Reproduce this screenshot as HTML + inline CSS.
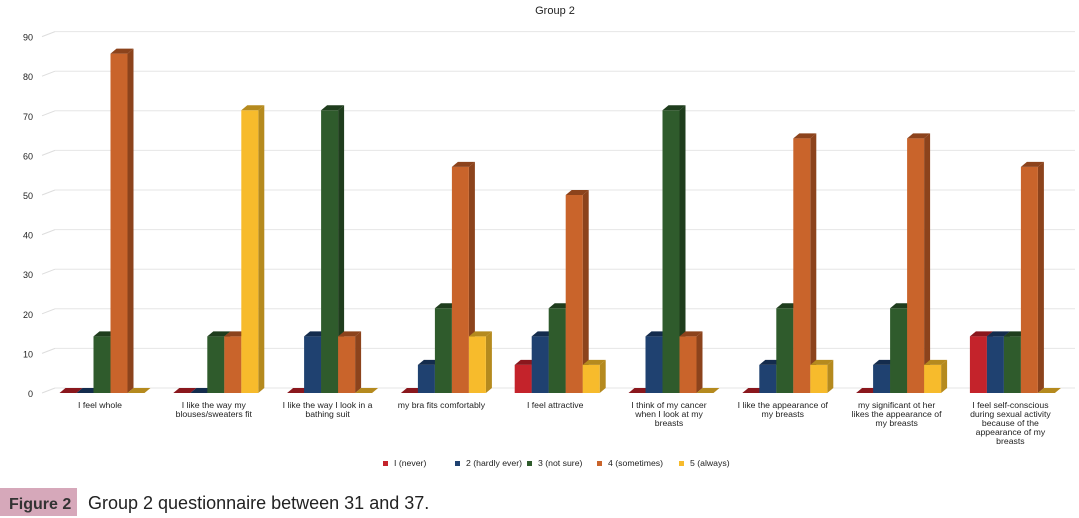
<!DOCTYPE html>
<html><head><meta charset="utf-8"><style>
body{margin:0;background:#fff;width:1079px;height:518px;overflow:hidden;font-family:"Liberation Sans",sans-serif}
svg{position:absolute;left:0;top:0}
</style></head><body>
<svg id="s" width="1079" height="518" xmlns="http://www.w3.org/2000/svg" font-family="Liberation Sans, sans-serif">
<text x="555" y="14" font-size="11" text-anchor="middle" fill="#222">Group 2</text>
<rect x="0" y="488" width="77" height="28" fill="#d6a8ba"/>
<text x="9" y="509" font-size="16" font-weight="bold" fill="#333">Figure 2</text>
<text x="88" y="509" font-size="18" fill="#222">Group 2 questionnaire between 31 and 37.</text>
</svg>
<script>
var s=document.getElementById('s'),h='';
function Y(v){return 393-v*3.96;}
for(var i=0;i<=9;i++){var y=Y(i*10);
h+='<line x1="42" y1="'+y+'" x2="55" y2="'+(y-5)+'" stroke="#ddd"/><line x1="55" y1="'+(y-5)+'" x2="1075" y2="'+(y-5)+'" stroke="#e6e6e6"/>';
h+='<text x="33" y="'+(y+4)+'" font-size="9" text-anchor="end" fill="#222">'+(i*10)+'</text>';}
var col=[['#c4232b','#8a171d'],['#1f4170','#142c4d'],['#2f5b2c','#1f3d1d'],['#c9642b','#8c431c'],['#f7bb2c','#b58a1e']];
var data=[[0,0,14.3,85.7,0],[0,0,14.3,14.3,71.4],[0,14.3,71.4,14.3,0],[0,7.1,21.4,57.1,14.3],[7.1,14.3,21.4,50,7.1],[0,14.3,71.4,14.3,0],[0,7.1,21.4,64.3,7.1],[0,7.1,21.4,64.3,7.1],[14.3,14.3,14.3,57.1,0]];
var labels=[['I feel whole'],['I like the way my','blouses/sweaters fit'],['I like the way I look in a','bathing suit'],['my bra fits comfortably'],['I feel attractive'],['I think of my cancer','when I look at my','breasts'],['I like the appearance of','my breasts'],['my significant ot her','likes the appearance of','my breasts'],['I feel self-conscious','during sexual activity','because of the','appearance of my','breasts']];
var W=17,dx=6,dy=5;
for(var g=0;g<9;g++){var cx=100+g*113.8,x0=cx-40.5;
for(var b=0;b<5;b++){var x=x0+b*W,v=data[g][b],t=Y(v),c=col[b];
if(v>0){h+='<polygon points="'+(x+W)+','+t+' '+(x+W+dx)+','+(t-dy)+' '+(x+W+dx)+','+(393-dy)+' '+(x+W)+',393" fill="'+c[1]+'"/>';
h+='<rect x="'+x+'" y="'+t+'" width="'+W+'" height="'+(393-t)+'" fill="'+c[0]+'"/>';}
h+='<polygon points="'+x+','+t+' '+(x+W)+','+t+' '+(x+W+dx)+','+(t-dy)+' '+(x+dx)+','+(t-dy)+'" fill="'+c[1]+'"/>';}
for(var l=0;l<labels[g].length;l++)h+='<text x="'+cx+'" y="'+(408+l*9)+'" font-size="8.7" text-anchor="middle" fill="#222">'+labels[g][l]+'</text>';}
var lg=[['I (never)',383],['2 (hardly ever)',455],['3 (not sure)',527],['4 (sometimes)',597],['5 (always)',679]];
for(var k=0;k<5;k++){h+='<rect x="'+lg[k][1]+'" y="461" width="5" height="5" fill="'+col[k][0]+'"/><text x="'+(lg[k][1]+11)+'" y="466" font-size="8.7" fill="#222">'+lg[k][0]+'</text>';}
s.insertAdjacentHTML('beforeend',h);
</script>
</body></html>
